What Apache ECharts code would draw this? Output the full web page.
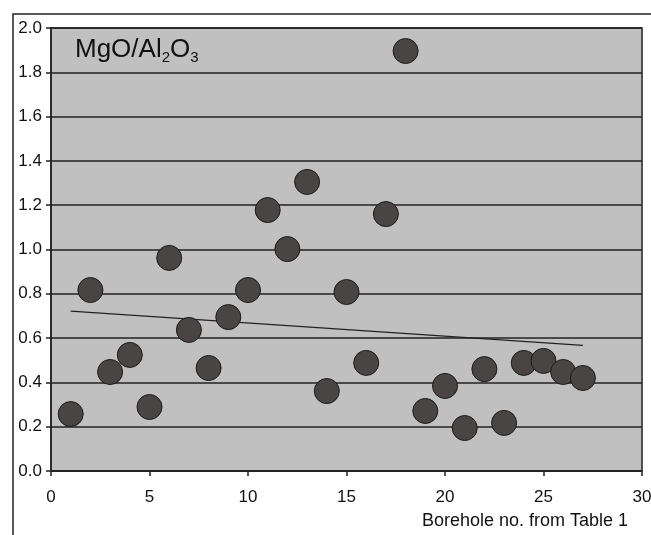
<!DOCTYPE html>
<html><head><meta charset="utf-8">
<script src="https://cdn.jsdelivr.net/npm/echarts@6/dist/echarts.min.js"></script>
<style>html,body{margin:0;padding:0;background:#fff}#c{width:651px;height:535px}</style>
</head><body><div id="c"></div>
<script>
const boreholes = [1,2,3,4,5,6,7,8,9,10,11,12,13,14,15,16,17,18,19,20,21,22,23,24,25,26,27];
const mgoAl2o3 = [0.257,0.817,0.447,0.524,0.289,0.962,0.637,0.465,0.695,0.817,1.178,1.002,1.305,0.361,0.808,0.488,1.160,1.896,0.271,0.384,0.194,0.460,0.217,0.488,0.497,0.447,0.420];
const trendX = [1,27];
const trendY = [0.722,0.567];
const xTicks = [0,5,10,15,20,25,30];
const yTicks = [0.0,0.2,0.4,0.6,0.8,1.0,1.2,1.4,1.6,1.8,2.0];

const font = 'Liberation Sans, Arial, sans-serif';
const chart = echarts.init(document.getElementById('c'));
chart.setOption({
  animation:false,
  backgroundColor:'#fff',
  grid:{left:51,top:28,right:9,bottom:64,outerBoundsMode:'none',containLabel:false,show:true,backgroundColor:'#c0c0c0',borderColor:'#222',borderWidth:1.5},
  graphic:[{type:'rect',shape:{x:13,y:14,width:700,height:600},style:{fill:'none',stroke:'#222',lineWidth:1.5},silent:true}],
  title:{text:'{m|MgO/Al}{s|2}{m|O}{s|3}',left:75,top:35,padding:0,
    textStyle:{fontWeight:'normal',rich:{
      m:{fontSize:26,fontFamily:font,fontWeight:'normal',color:'#111',lineHeight:30},
      s:{fontSize:15,fontFamily:font,fontWeight:'normal',color:'#111',lineHeight:16,verticalAlign:'bottom'}}}},
  xAxis:{type:'value',min:xTicks[0],max:xTicks[xTicks.length-1],interval:5,
    name:'Borehole no. from Table 1',nameLocation:'end',nameGap:0,
    nameTextStyle:{fontFamily:font,fontSize:18,color:'#111',align:'right',verticalAlign:'top',padding:[41,14,0,0]},
    axisLine:{show:true,lineStyle:{color:'#222',width:1.5}},
    axisTick:{show:true,length:5,lineStyle:{color:'#222',width:1.5}},
    axisLabel:{fontFamily:font,fontSize:17,color:'#111',margin:18,formatter:v=>String(v)},
    splitLine:{show:false}},
  yAxis:{type:'value',min:yTicks[0],max:yTicks[yTicks.length-1],interval:0.2,
    axisLine:{show:true,lineStyle:{color:'#222',width:1.5}},
    axisTick:{show:true,length:5,lineStyle:{color:'#222',width:1.5}},
    axisLabel:{fontFamily:font,fontSize:17,color:'#111',margin:9,formatter:v=>v.toFixed(1)},
    splitLine:{show:true,lineStyle:{color:'#222',width:1.5}}},
  series:[
    {type:'line',data:trendX.map((x,i)=>[x,trendY[i]]),symbol:'none',lineStyle:{color:'#222',width:1.3},z:2},
    {type:'scatter',data:boreholes.map((x,i)=>[x,mgoAl2o3[i]]),symbolSize:25,
     itemStyle:{color:'#4a4545',borderColor:'#1a1a1a',borderWidth:1,opacity:1},z:3}
  ]
});
</script></body></html>
